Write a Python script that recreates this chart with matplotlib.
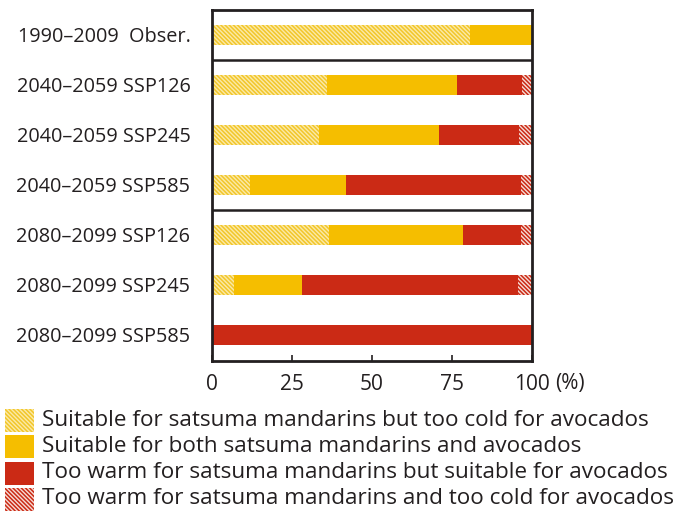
import matplotlib
matplotlib.use("Agg")
import matplotlib.pyplot as plt
import numpy as np
from matplotlib.patches import Rectangle

plt.rcParams['font.family'] = ['Open Sans', 'DejaVu Sans']
plt.rcParams['hatch.linewidth'] = 1.1

periods = ["1990\u20132009  Obser.",
           "2040\u20132059 SSP126", "2040\u20132059 SSP245", "2040\u20132059 SSP585",
           "2080\u20132099 SSP126", "2080\u20132099 SSP245", "2080\u20132099 SSP585"]

cold_avocado = [80.5, 36.0, 33.5, 12.0, 36.7, 7.0, 0.0]
both_suitable = [19.5, 40.5, 37.5, 30.0, 41.7, 21.0, 0.0]
warm_mandarin = [0.0, 20.5, 25.0, 54.5, 18.1, 67.5, 100.0]
warm_cold = [0.0, 3.0, 4.0, 3.5, 3.5, 4.5, 0.0]

series_names = ["Suitable for satsuma mandarins but too cold for avocados",
                "Suitable for both satsuma mandarins and avocados",
                "Too warm for satsuma mandarins but suitable for avocados",
                "Too warm for satsuma mandarins and too cold for avocados"]

xticks = [0, 25, 50, 75, 100]
xtick_labels = ["0", "25", "50", "75", "100"]

styles = [
    dict(facecolor="#FBEAA8", edgecolor="#F2C62A", hatch="\\" * 8, linewidth=0),
    dict(facecolor="#F5BE00", edgecolor="none", linewidth=0),
    dict(facecolor="#CB2A15", edgecolor="none", linewidth=0),
    dict(facecolor="#F6DCD6", edgecolor="#CB2A15", hatch="\\" * 8, linewidth=0),
]

W, H = 678, 522
fig = plt.figure(figsize=(W / 100, H / 100), dpi=100)
ax = fig.add_axes([212 / W, 1 - 361 / H, 320 / W, 351 / H])

y = np.arange(len(periods))
left = np.zeros(len(periods))
for vals, st in zip([cold_avocado, both_suitable, warm_mandarin, warm_cold], styles):
    ax.barh(y, vals, left=left, height=0.4, **st)
    left += np.array(vals)

ax.set_xlim(0, 100)
ax.set_ylim(6.52, -0.5)
ax.set_yticks(y)
ax.set_yticklabels(periods, fontsize=14.3, color="#231f20")
ax.tick_params(axis="y", length=0, pad=15.5)
ax.set_xticks(xticks)
ax.set_xticklabels(xtick_labels, fontsize=15, color="#231f20")
ax.tick_params(axis="x", direction="in", length=4, width=1.2, color="#231f20", pad=9)
ax.annotate("(%)", xy=(100, 0), xycoords=("data", "axes fraction"),
            xytext=(16.5, -9), textcoords="offset points", fontsize=15,
            color="#231f20", ha="left", va="top")

for s in ax.spines.values():
    s.set_linewidth(2)
    s.set_color("#231f20")
for sep in [0.5, 3.5]:
    ax.axhline(sep, color="#231f20", linewidth=1.8)

# legend drawn manually in figure pixels
for i, (name, st) in enumerate(zip(series_names, styles)):
    yc = 420 + 26.3 * i
    fig.patches.append(Rectangle((5 / W, 1 - (yc + 12) / H), 29 / W, 23 / H,
                                 transform=fig.transFigure, figure=fig, **st))
    fig.text(42 / W, 1 - yc / H, name, fontsize=16.2, color="#231f20",
             ha="left", va="center")

fig.savefig("out.png", dpi=100)
